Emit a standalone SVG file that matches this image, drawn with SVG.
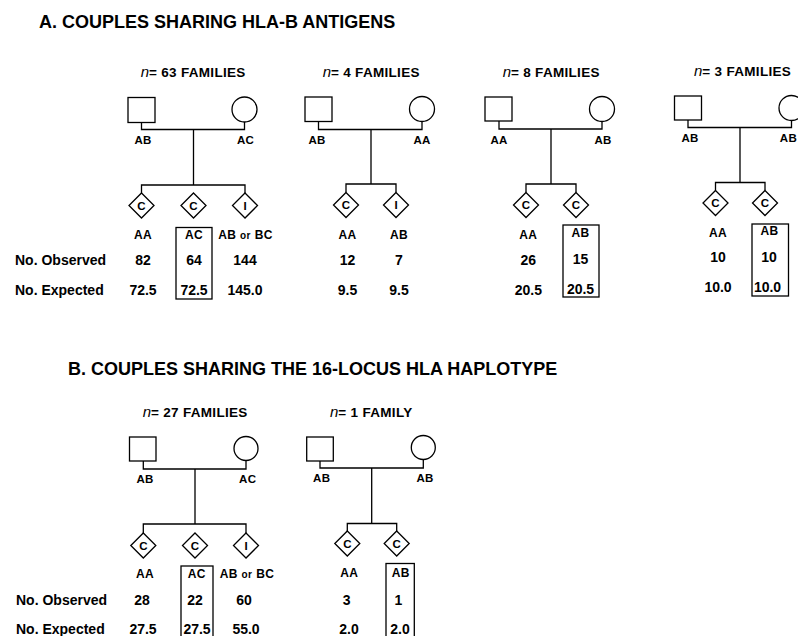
<svg xmlns="http://www.w3.org/2000/svg" width="798" height="636" viewBox="0 0 798 636">
<style>
text{font-family:"Liberation Sans",Arial,Helvetica,sans-serif;font-weight:bold;fill:#000}
.h{font-size:18px}
.t{font-size:13.5px;letter-spacing:0.3px}
.t .n{font-style:italic;font-weight:normal;font-size:15px;letter-spacing:0}
.pl{font-size:11.5px;text-anchor:middle;letter-spacing:0.3px}
.cl{font-size:12px;text-anchor:middle;letter-spacing:0.4px}
.cl .o{font-size:10px}
.num{font-size:14px;text-anchor:middle}
.row{font-size:14px}
.dl{font-size:11.5px;text-anchor:middle}
.sym{fill:#fff;stroke:#000;stroke-width:1.3}
.box{fill:none;stroke:#000;stroke-width:1.3}
.ln{fill:none;stroke:#000;stroke-width:1.3}
</style>
<defs>
<polygon id="dia" points="0,-12.5 12.5,0 0,12.5 -12.5,0" class="sym"/>
</defs>

<text class="h" x="39" y="27.5">A. COUPLES SHARING HLA-B ANTIGENS</text>
<text class="h" x="68" y="375">B. COUPLES SHARING THE 16-LOCUS HLA HAPLOTYPE</text>

<!-- connectors -->
<g id="connectors" class="ln">
<path d="M141.5 122.5V129.5H244.5V122M193.5 129.5V185M141.5 193V185H245V193"/>
<path d="M318.5 121.5V129.5H422V121.5M371 129.5V184M346 192.5V184H396V192.5"/>
<path d="M499 121V129H602V121.5M551 129V184M526 192.5V184H576V192.5"/>
<path d="M688 120V127.5H791.5V120.5M740 127.5V182.5M715.5 190.5V182.5H765V190.5"/>
<path d="M143.3 461V469H246V460.5M195 469V524M143.3 533V524H246V533"/>
<path d="M320 461V468H423.3V459.5M371.7 468V523.5M347.3 531V523.5H396.7V531"/>
</g>

<!-- Panel A1 -->
<g id="panelA1">
<text class="t" x="140.7" y="77"><tspan class="n">n</tspan>= 63 FAMILIES</text>
<g id="a1-father"><rect class="sym" x="128" y="97.5" width="27" height="25"/><text class="pl" x="143" y="143.5">AB</text></g>
<g id="a1-mother"><circle class="sym" cx="244.5" cy="109.5" r="12.5"/><text class="pl" x="245.5" y="143.5">AC</text></g>
<g id="a1-child1"><use href="#dia" x="141.5" y="205.5"/><text class="dl" x="141.5" y="209.6">C</text></g>
<g id="a1-child2"><use href="#dia" x="193.5" y="205.5"/><text class="dl" x="193.5" y="209.6">C</text></g>
<g id="a1-child3"><use href="#dia" x="245" y="205.5"/><text class="dl" x="245" y="209.6">I</text></g>
<text class="cl" x="143" y="238.5">AA</text>
<text class="cl" x="194" y="238.5">AC</text>
<text class="cl" x="245.5" y="238.5">AB <tspan class="o">or</tspan> BC</text>
<text class="num" x="143" y="265">82</text>
<text class="num" x="194" y="265">64</text>
<text class="num" x="245" y="265">144</text>
<text class="num" x="143" y="294.5">72.5</text>
<text class="num" x="194" y="294.5">72.5</text>
<text class="num" x="245" y="294.5">145.0</text>
<rect class="box" x="176" y="227.5" width="36" height="71.5"/>
</g>
<text class="row" x="15" y="265">No. Observed</text>
<text class="row" x="15" y="294.5">No. Expected</text>

<!-- Panel A2 -->
<g id="panelA2">
<text class="t" x="322.7" y="77"><tspan class="n">n</tspan>= 4 FAMILIES</text>
<g id="a2-father"><rect class="sym" x="305" y="97" width="27" height="24.5"/><text class="pl" x="317" y="143.5">AB</text></g>
<g id="a2-mother"><circle class="sym" cx="422" cy="109" r="12.5"/><text class="pl" x="422" y="143.5">AA</text></g>
<g id="a2-child1"><use href="#dia" x="346" y="205"/><text class="dl" x="346" y="209.1">C</text></g>
<g id="a2-child2"><use href="#dia" x="396" y="205"/><text class="dl" x="396" y="209.1">I</text></g>
<text class="cl" x="347.5" y="238.5">AA</text>
<text class="cl" x="399" y="238.5">AB</text>
<text class="num" x="347.5" y="265">12</text>
<text class="num" x="399" y="265">7</text>
<text class="num" x="347.5" y="294.5">9.5</text>
<text class="num" x="399" y="294.5">9.5</text>
</g>

<!-- Panel A3 -->
<g id="panelA3">
<text class="t" x="502.7" y="77"><tspan class="n">n</tspan>= 8 FAMILIES</text>
<g id="a3-father"><rect class="sym" x="485" y="97" width="27" height="24"/><text class="pl" x="499" y="143.5">AA</text></g>
<g id="a3-mother"><circle class="sym" cx="602" cy="109" r="12.5"/><text class="pl" x="603" y="143.5">AB</text></g>
<g id="a3-child1"><use href="#dia" x="526" y="205"/><text class="dl" x="526" y="209.1">C</text></g>
<g id="a3-child2"><use href="#dia" x="576" y="205"/><text class="dl" x="576" y="209.1">C</text></g>
<text class="cl" x="528.3" y="238.5">AA</text>
<text class="cl" x="580.5" y="236.5">AB</text>
<text class="num" x="528.3" y="265">26</text>
<text class="num" x="580.5" y="264">15</text>
<text class="num" x="528.3" y="294.5">20.5</text>
<text class="num" x="580.5" y="294">20.5</text>
<rect class="box" x="563" y="225" width="36" height="72"/>
</g>

<!-- Panel A4 -->
<g id="panelA4">
<text class="t" x="694" y="76"><tspan class="n">n</tspan>= 3 FAMILIES</text>
<g id="a4-father"><rect class="sym" x="674.5" y="96" width="27" height="24"/><text class="pl" x="690" y="141.5">AB</text></g>
<g id="a4-mother"><circle class="sym" cx="791.5" cy="108" r="12.5"/><text class="pl" x="797" y="141.5" style="text-anchor:end">AB</text></g>
<g id="a4-child1"><use href="#dia" x="715.5" y="203"/><text class="dl" x="715.5" y="207.1">C</text></g>
<g id="a4-child2"><use href="#dia" x="765" y="203"/><text class="dl" x="765" y="207.1">C</text></g>
<text class="cl" x="718" y="236.5">AA</text>
<text class="cl" x="769.5" y="235">AB</text>
<text class="num" x="718" y="262">10</text>
<text class="num" x="769" y="262">10</text>
<text class="num" x="718" y="292">10.0</text>
<text class="num" x="767.5" y="292">10.0</text>
<rect class="box" x="752" y="224" width="36.5" height="72"/>
</g>

<!-- Panel B1 -->
<g id="panelB1">
<text class="t" x="142.7" y="416.5"><tspan class="n">n</tspan>= 27 FAMILIES</text>
<g id="b1-father"><rect class="sym" x="129.5" y="437" width="26.5" height="24"/><text class="pl" x="145" y="483">AB</text></g>
<g id="b1-mother"><circle class="sym" cx="246" cy="448.5" r="12"/><text class="pl" x="247.7" y="483">AC</text></g>
<g id="b1-child1"><use href="#dia" x="143.3" y="545.5"/><text class="dl" x="143.3" y="549.6">C</text></g>
<g id="b1-child2"><use href="#dia" x="195" y="545.5"/><text class="dl" x="195" y="549.6">C</text></g>
<g id="b1-child3"><use href="#dia" x="246" y="545.5"/><text class="dl" x="246" y="549.6">I</text></g>
<text class="cl" x="145" y="577.5">AA</text>
<text class="cl" x="196.7" y="577.5">AC</text>
<text class="cl" x="247" y="577.5">AB <tspan class="o">or</tspan> BC</text>
<text class="num" x="142" y="605">28</text>
<text class="num" x="195" y="605">22</text>
<text class="num" x="244" y="605">60</text>
<text class="num" x="143" y="634">27.5</text>
<text class="num" x="197" y="634">27.5</text>
<text class="num" x="246" y="634">55.0</text>
<rect class="box" x="181" y="566" width="32" height="75"/>
</g>
<text class="row" x="16" y="605">No. Observed</text>
<text class="row" x="16" y="634">No. Expected</text>

<!-- Panel B2 -->
<g id="panelB2">
<text class="t" x="330" y="416.5"><tspan class="n">n</tspan>= 1 FAMILY</text>
<g id="b2-father"><rect class="sym" x="306.7" y="437" width="26.6" height="24"/><text class="pl" x="321.7" y="482">AB</text></g>
<g id="b2-mother"><circle class="sym" cx="423.3" cy="447.5" r="12"/><text class="pl" x="425" y="482">AB</text></g>
<g id="b2-child1"><use href="#dia" x="347.3" y="543.5"/><text class="dl" x="347.3" y="547.6">C</text></g>
<g id="b2-child2"><use href="#dia" x="396.7" y="543.5"/><text class="dl" x="396.7" y="547.6">C</text></g>
<text class="cl" x="349.3" y="577">AA</text>
<text class="cl" x="400.7" y="577">AB</text>
<text class="num" x="346.7" y="605">3</text>
<text class="num" x="398.3" y="605">1</text>
<text class="num" x="349" y="634">2.0</text>
<text class="num" x="400" y="634">2.0</text>
<rect class="box" x="386" y="563.5" width="28.3" height="80"/>
</g>
</svg>
